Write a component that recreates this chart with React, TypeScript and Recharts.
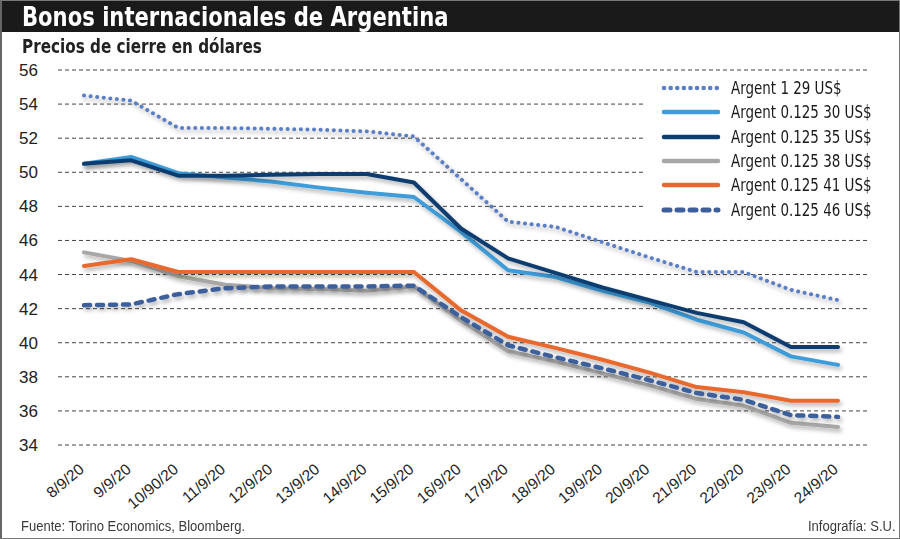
import React from "react"
import { LineChart, Line, XAxis, YAxis, CartesianGrid, Legend } from "recharts"

const dates = [
  "8/9/20", "9/9/20", "10/90/20", "11/9/20", "12/9/20", "13/9/20", "14/9/20", "15/9/20",
  "16/9/20", "17/9/20", "18/9/20", "19/9/20", "20/9/20", "21/9/20", "22/9/20", "23/9/20", "24/9/20",
]

const a29 = [54.5, 54.2, 52.6, 52.6, 52.55, 52.5, 52.4, 52.1, 49.6, 47.1, 46.8, 45.9, 45.0, 44.15, 44.15, 43.1, 42.5]
const a30 = [50.5, 50.9, 49.95, 49.7, 49.45, 49.1, 48.8, 48.55, 46.5, 44.25, 43.85, 43.05, 42.35, 41.35, 40.6, 39.2, 38.7]
const a35 = [50.5, 50.7, 49.8, 49.8, 49.85, 49.9, 49.9, 49.4, 46.7, 44.95, 44.1, 43.25, 42.5, 41.75, 41.2, 39.75, 39.75]
const a38 = [45.3, 44.8, 43.9, 43.4, 43.2, 43.15, 43.05, 43.3, 41.3, 39.5, 38.9, 38.2, 37.5, 36.7, 36.3, 35.3, 35.05]
const a41 = [44.5, 44.9, 44.15, 44.15, 44.15, 44.15, 44.15, 44.15, 41.9, 40.35, 39.7, 39.0, 38.25, 37.4, 37.1, 36.6, 36.6]
const a46 = [42.2, 42.25, 42.85, 43.2, 43.3, 43.3, 43.3, 43.35, 41.5, 39.85, 39.15, 38.5, 37.8, 37.05, 36.65, 35.75, 35.65]

const yTicks = [34, 36, 38, 40, 42, 44, 46, 48, 50, 52, 54, 56]

const series = [
  { key: "a29", name: "Argent 1 29 US$", color: "#5b7fc4", dash: "0.1 6.5", width: 4 },
  { key: "a30", name: "Argent 0.125 30 US$", color: "#3e9cd9", dash: undefined, width: 4 },
  { key: "a35", name: "Argent 0.125 35 US$", color: "#0e3e6f", dash: undefined, width: 4 },
  { key: "a38", name: "Argent 0.125 38 US$", color: "#a9a7a5", dash: undefined, width: 4 },
  { key: "a41", name: "Argent 0.125 41 US$", color: "#e8692d", dash: undefined, width: 4 },
  { key: "a46", name: "Argent 0.125 46 US$", color: "#3c5f9b", dash: "6 7", width: 4.5 },
]

// drawing order: gray at the back, dotted on top
const drawOrder = ["a38", "a30", "a35", "a41", "a46", "a29"]

const data = dates.map((d, i) => ({
  date: d,
  a29: a29[i],
  a30: a30[i],
  a35: a35[i],
  a38: a38[i],
  a41: a41[i],
  a46: a46[i],
}))

const COND = "'DejaVu Sans Condensed', 'DejaVu Sans', sans-serif"
const SANS = "'Liberation Sans', Arial, sans-serif"

// condensed text helper (no narrow font installed)
const Squeeze = ({ k, children, style }: any) => (
  <span style={{ display: "inline-block", transform: `scaleX(${k})`, transformOrigin: "left center", whiteSpace: "nowrap", ...style }}>
    {children}
  </span>
)

const DateTick = ({ x, y, payload }: any) => (
  <text
    x={x + 1}
    y={y + 18}
    transform={`rotate(-40 ${x + 1} ${y + 18})`}
    textAnchor="end"
    fontSize={15.5}
    fontFamily={SANS}
    fill="#222"
  >
    {payload.value}
  </text>
)

const LegendBox = () => (
  <div style={{ background: "#fff", padding: "4px 0 8px 0" }}>
    {series.map((s) => (
      <div key={s.key} style={{ display: "flex", alignItems: "center", height: 24.3 }}>
        <svg width={70} height={10} style={{ marginLeft: 14 }}>
          <line
            x1={4}
            y1={5}
            x2={58}
            y2={5}
            stroke={s.color}
            strokeWidth={s.width + 0.5}
            strokeDasharray={s.dash}
            strokeLinecap="round"
          />
        </svg>
        <Squeeze k={0.88} style={{ fontFamily: COND, fontSize: 17, color: "#1a1a1a", marginLeft: 1 }}>
          {s.name}
        </Squeeze>
      </div>
    ))}
  </div>
)

export default function App() {
  return (
    <div
      style={{
        position: "fixed",
        left: 0,
        top: 0,
        width: 900,
        height: 539,
        boxSizing: "border-box",
        border: "1px solid #777",
        borderLeft: "2px solid #666",
        background: "#fff",
        overflow: "hidden",
      }}
    >
      <div style={{ position: "absolute", left: 0, top: 0, width: 900, height: 31, background: "#1a1a1a" }} />
      <div style={{ position: "absolute", left: 20, top: 0, height: 31, lineHeight: "31px", color: "#fff" }}>
        <Squeeze k={0.87} style={{ fontFamily: COND, fontWeight: 700, fontSize: 27 }}>
          Bonos internacionales de Argentina
        </Squeeze>
      </div>
      <div style={{ position: "absolute", left: 20, top: 34, color: "#222" }}>
        <Squeeze k={0.89} style={{ fontFamily: COND, fontWeight: 700, fontSize: 19 }}>
          Precios de cierre en dólares
        </Squeeze>
      </div>

      <div style={{ position: "absolute", left: -2, top: -1 }}>
        <LineChart width={900} height={539} data={data} margin={{ top: 70, right: 32, bottom: 0, left: 0 }}>
          <defs>
            <filter id="shadow" x="-5%" y="-10%" width="115%" height="130%">
              <feDropShadow dx="2" dy="3" stdDeviation="2" floodColor="#000" floodOpacity="0.3" />
            </filter>
          </defs>
          <CartesianGrid vertical={false} stroke="#444" strokeDasharray="4 3" />
          <XAxis
            dataKey="date"
            axisLine={false}
            tickLine={false}
            interval={0}
            padding={{ left: 26, right: 30 }}
            tick={<DateTick />}
            height={94}
          />
          <YAxis
            domain={[34, 56]}
            ticks={yTicks}
            interval={0}
            axisLine={false}
            tickLine={false}
            width={58}
            tickMargin={14}
            tick={{ fontSize: 17, fontFamily: SANS, fill: "#222" }}
          />
          <Legend
            layout="horizontal"
            verticalAlign="middle"
            align="center"
            content={<LegendBox />}
            wrapperStyle={{ position: "absolute", left: 646, top: 72, width: 248 }}
          />
          {drawOrder.map((k) => {
            const s = series.find((x) => x.key === k)!
            return (
              <Line
                key={s.key}
                dataKey={s.key}
                name={s.name}
                stroke={s.color}
                strokeWidth={s.width}
                strokeDasharray={s.dash}
                strokeLinecap="round"
                strokeLinejoin="round"
                filter="url(#shadow)"
                dot={false}
                activeDot={false}
                isAnimationActive={false}
              />
            )
          })}
        </LineChart>
      </div>

      <div style={{ position: "absolute", left: 19, top: 516, color: "#3a3a3a" }}>
        <Squeeze k={0.93} style={{ fontFamily: SANS, fontSize: 14 }}>
          Fuente: Torino Economics, Bloomberg.
        </Squeeze>
      </div>
      <div style={{ position: "absolute", left: 806, top: 516, color: "#3a3a3a" }}>
        <Squeeze k={0.93} style={{ fontFamily: SANS, fontSize: 14 }}>
          Infografía: S.U.
        </Squeeze>
      </div>
    </div>
  )
}
